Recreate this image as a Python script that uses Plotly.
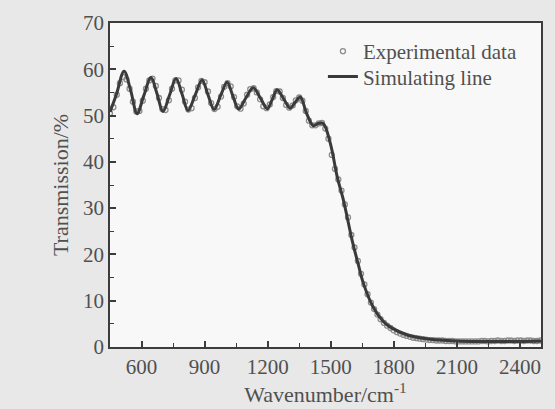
import plotly.graph_objects as go

# Experimental data (wavenumber cm^-1, transmission %)
exp_x = [450, 466, 482, 497, 512, 528, 543, 559, 575, 590, 606, 621, 637, 652, 668, 683, 699,
         714, 730, 745, 761, 776, 792, 807, 823, 838, 854, 869, 885, 900, 916, 931, 947,
         962, 978, 993, 1009, 1024, 1040, 1055, 1071, 1086, 1102, 1117, 1133, 1148, 1164,
         1179, 1195, 1210, 1226, 1241, 1257, 1272, 1288, 1303, 1319, 1334, 1350, 1365, 1381,
         1396, 1412, 1427, 1443, 1458, 1474, 1489, 1505, 1520, 1536, 1551, 1567, 1582, 1598,
         1613, 1629, 1644, 1660, 1675, 1691, 1706, 1722, 1737, 1753, 1768, 1784, 1799, 1815,
         1830, 1846, 1861, 1877, 1892, 1908, 1923, 1939, 1954, 1970, 1985, 2001, 2016, 2032,
         2047, 2063, 2078, 2094, 2109, 2125, 2140, 2156, 2171, 2187, 2202, 2218, 2233, 2249,
         2264, 2280, 2295, 2311, 2326, 2342, 2357, 2373, 2388, 2404, 2419, 2435, 2450, 2466,
         2481, 2497]
exp_y = [50.5, 51.8, 54.5, 57.0, 58.3, 57.8, 55.8, 53.0, 50.9, 51.0, 53.2, 55.8, 57.6, 58.0,
         56.4, 53.8, 51.4, 51.2, 53.3, 55.8, 57.6, 57.6, 55.6, 53.0, 51.3, 51.6, 53.8, 56.1,
         57.5, 57.2, 55.2, 52.7, 51.4, 51.9, 54.1, 56.2, 57.0, 56.3, 54.0, 52.0, 51.5, 52.6,
         54.5, 55.7, 55.9, 55.0, 53.5, 52.0, 51.6, 52.4, 54.0, 55.3, 55.2, 53.8, 52.3, 51.7,
         52.2, 53.3, 53.9, 53.2, 51.0, 48.9, 47.9, 47.9, 48.3, 48.4, 47.2, 45.0, 41.5, 38.5,
         36.2, 33.8, 30.8, 28.0, 24.2, 21.5, 18.6, 15.8, 13.5, 11.4, 9.6, 8.2, 7.0, 6.0, 5.2,
         4.6, 4.1, 3.6, 3.2, 2.9, 2.6, 2.4, 2.2, 2.0, 1.9, 1.8, 1.7, 1.6, 1.5, 1.5, 1.4, 1.4,
         1.4, 1.3, 1.3, 1.3, 1.2, 1.2, 1.2, 1.2, 1.2, 1.2, 1.2, 1.2, 1.3, 1.3, 1.2, 1.3, 1.3,
         1.4, 1.3, 1.3, 1.4, 1.4, 1.3, 1.4, 1.4, 1.3, 1.4, 1.4, 1.3, 1.3, 1.4]

# Simulating line key points
sim_x = [450, 480, 517, 548, 579, 610, 645, 673, 702, 733, 764, 793, 821, 855, 888, 916, 945,
         976, 1007, 1034, 1062, 1096, 1131, 1165, 1198, 1222, 1245, 1276, 1307, 1331, 1355,
         1385, 1417, 1440, 1464, 1498, 1531, 1560, 1602, 1630, 1655, 1702, 1750, 1783, 1864,
         1940, 2021, 2100, 2200, 2300, 2400, 2500]
sim_y = [50.8, 54.5, 59.6, 55.5, 50.4, 54.2, 58.2, 54.8, 50.9, 54.4, 58.0, 54.6, 51.1, 54.4,
         57.7, 54.5, 51.3, 54.3, 57.2, 54.3, 51.4, 53.8, 56.0, 53.8, 51.5, 53.5, 55.6, 53.6,
         51.6, 52.9, 54.0, 50.5, 47.8, 48.3, 48.3, 44.0, 36.7, 31.8, 23.0, 18.0, 13.8, 8.6,
         5.5, 4.3, 2.6, 1.9, 1.5, 1.3, 1.2, 1.2, 1.2, 1.3]

x_ticks = [600, 900, 1200, 1500, 1800, 2100, 2400]
y_ticks = [0, 10, 20, 30, 40, 50, 60, 70]

FONT = "Liberation Serif"
TXT = "#505050"
AX = "#3c3c3c"

fig = go.Figure()
fig.add_trace(go.Scatter(
    x=exp_x, y=exp_y, mode="markers", name="Experimental data", legend="legend",
    marker=dict(symbol="circle-open", size=5, color="#8c8c8c", line=dict(width=1.3)),
))
fig.add_trace(go.Scatter(
    x=sim_x, y=sim_y, mode="lines", name="Simulating line", legend="legend2",
    line=dict(color="#3a3a3a", width=3, shape="spline", smoothing=1.0),
))

axis_common = dict(
    showline=True, linecolor=AX, linewidth=1.6, mirror=True,
    ticks="inside", ticklen=6, tickwidth=1.5, tickcolor=AX,
    showgrid=False, zeroline=False,
    tickfont=dict(family=FONT, size=21, color=TXT),
)

fig.update_xaxes(
    range=[450, 2500], tickvals=x_ticks, ticktext=[str(v) for v in x_ticks],
    minor=dict(ticks="inside", ticklen=4, tickwidth=1.3, tickcolor=AX, dtick=150, tick0=450),
    title=dict(text="Wavenumber/cm<sup>-1</sup>", font=dict(family=FONT, size=22, color=TXT), standoff=4),
    **axis_common,
)
fig.update_yaxes(
    range=[0, 70], tickvals=y_ticks, ticktext=[str(v) for v in y_ticks],
    minor=dict(ticks="inside", ticklen=4, tickwidth=1.3, tickcolor=AX, dtick=5, tick0=0),
    title=dict(text="Transmission/%", font=dict(family=FONT, size=22, color=TXT), standoff=8),
    **axis_common,
)

legend_common = dict(
    xanchor="left", yanchor="middle",
    bgcolor="rgba(0,0,0,0)", borderwidth=0,
    font=dict(family=FONT, size=21, color=TXT),
    itemwidth=30,
)

fig.update_layout(
    width=555, height=409,
    margin=dict(l=110, r=14, t=23, b=62, autoexpand=False),
    paper_bgcolor="#e8e8e8", plot_bgcolor="#f8f8f8",
    showlegend=True,
    legend=dict(x=0.494, y=0.912, **legend_common),
    legend2=dict(x=0.494, y=0.834, **legend_common),
)

fig.write_html(
    "out.html",
    config={"displayModeBar": False},
    post_script="document.body.style.margin='0';document.body.style.background='#e8e8e8';",
)
